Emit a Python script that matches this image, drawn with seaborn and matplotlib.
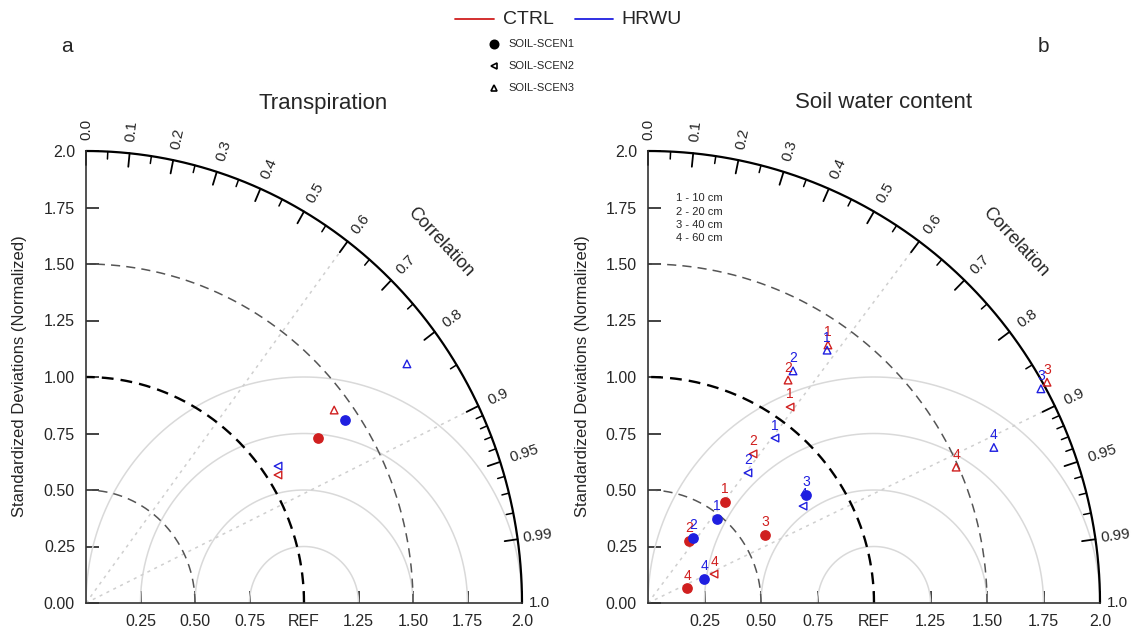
import numpy as np
import pandas as pd
import matplotlib
matplotlib.use("Agg")
import matplotlib.pyplot as plt
import seaborn as sns
from matplotlib.lines import Line2D

sns.set_theme(style="white")
plt.rcParams["font.family"] = ["Liberation Sans", "DejaVu Sans"]

# ---------------- data ----------------
models = ["CTRL", "HRWU"]
scenarios = ["SOIL-SCEN1", "SOIL-SCEN2", "SOIL-SCEN3"]
depths = ["1", "2", "3", "4"]
depth_text = ["1 - 10 cm", "2 - 20 cm", "3 - 40 cm", "4 - 60 cm"]

# Transpiration (normalized std, correlation) per scenario
tr_std_ctrl = [1.290, 1.047, 1.423]
tr_cor_ctrl = [0.825, 0.841, 0.800]
tr_std_hrwu = [1.438, 1.069, 1.813]
tr_cor_hrwu = [0.826, 0.824, 0.812]

# Soil water content, per depth (1..4); NaN = not visible
sw_std_ctrl_s1 = [0.562, 0.329, 0.599, 0.185]
sw_cor_ctrl_s1 = [0.606, 0.551, 0.864, 0.934]
sw_std_ctrl_s2 = [1.071, 0.807, np.nan, 0.319]
sw_cor_ctrl_s2 = [0.587, 0.576, np.nan, 0.916]
sw_std_ctrl_s3 = [1.392, 1.165, 2.018, 1.490]
sw_cor_ctrl_s3 = [0.572, 0.532, 0.875, 0.915]

sw_std_hrwu_s1 = [0.481, 0.350, 0.847, 0.270]
sw_cor_hrwu_s1 = [0.634, 0.569, 0.825, 0.919]
sw_std_hrwu_s2 = [0.921, 0.726, np.nan, 0.809]
sw_cor_hrwu_s2 = [0.610, 0.609, np.nan, 0.848]
sw_std_hrwu_s3 = [1.371, 1.211, 1.980, 1.678]
sw_cor_hrwu_s3 = [0.578, 0.530, 0.878, 0.912]

colors = {"CTRL": "#d01f1f", "HRWU": "#1f1fe0"}
markers = {"SOIL-SCEN1": "o", "SOIL-SCEN2": "<", "SOIL-SCEN3": "^"}

# build tables
rows = []
for m, stds, cors in [("CTRL", tr_std_ctrl, tr_cor_ctrl), ("HRWU", tr_std_hrwu, tr_cor_hrwu)]:
    for sc, s, c in zip(scenarios, stds, cors):
        rows.append(dict(model=m, scen=sc, std=s, cor=c, depth=""))
tr_df = pd.DataFrame(rows)

sw_sets = {
    ("CTRL", "SOIL-SCEN1"): (sw_std_ctrl_s1, sw_cor_ctrl_s1),
    ("CTRL", "SOIL-SCEN2"): (sw_std_ctrl_s2, sw_cor_ctrl_s2),
    ("CTRL", "SOIL-SCEN3"): (sw_std_ctrl_s3, sw_cor_ctrl_s3),
    ("HRWU", "SOIL-SCEN1"): (sw_std_hrwu_s1, sw_cor_hrwu_s1),
    ("HRWU", "SOIL-SCEN2"): (sw_std_hrwu_s2, sw_cor_hrwu_s2),
    ("HRWU", "SOIL-SCEN3"): (sw_std_hrwu_s3, sw_cor_hrwu_s3),
}
rows = []
for (m, sc), (stds, cors) in sw_sets.items():
    for d, s, c in zip(depths, stds, cors):
        rows.append(dict(model=m, scen=sc, std=s, cor=c, depth=d))
sw_df = pd.DataFrame(rows).dropna()

for df in (tr_df, sw_df):
    th = np.arccos(df["cor"])
    df["x"] = df["std"] * np.cos(th)
    df["y"] = df["std"] * np.sin(th)

# ---------------- figure ----------------
W, H = 1134, 630
fig = plt.figure(figsize=(W / 100, H / 100), dpi=100)


def fx(px):
    return px / W


def fy(py):
    return 1 - py / H


ax1 = fig.add_axes([fx(86), fy(603), (522 - 86) / W, (603 - 151) / H])
ax2 = fig.add_axes([fx(648), fy(603), (1100 - 648) / W, (603 - 151) / H])

major_c = [0.0, 0.1, 0.2, 0.3, 0.4, 0.5, 0.6, 0.7, 0.8, 0.9, 0.95, 0.99]
minor_c = [0.05, 0.15, 0.25, 0.35, 0.45, 0.55, 0.65, 0.75, 0.85,
           0.91, 0.92, 0.93, 0.94, 0.96, 0.97, 0.98]


def frame(ax):
    ax.set_xlim(0, 2)
    ax.set_ylim(0, 2)
    ax.set_facecolor("none")
    for s in ["top", "right"]:
        ax.spines[s].set_visible(False)
    for s in ["left", "bottom"]:
        ax.spines[s].set_color("#333333")
        ax.spines[s].set_linewidth(1.2)
    ax.set_xticks([0.25, 0.5, 0.75, 1.0, 1.25, 1.5, 1.75, 2.0])
    ax.set_xticklabels(["0.25", "0.50", "0.75", "REF", "1.25", "1.50", "1.75", "2.0"])
    ax.set_yticks([0, 0.25, 0.5, 0.75, 1.0, 1.25, 1.5, 1.75, 2.0])
    ax.set_yticklabels(["0.00", "0.25", "0.50", "0.75", "1.00", "1.25", "1.50", "1.75", "2.0"])
    ax.tick_params(axis="both", direction="in", length=9, width=1.2, color="#222222",
                   labelsize=11.5, pad=8, left=True, bottom=True)
    t = np.linspace(0, np.pi / 2, 300)
    # outer arc
    ax.plot(2 * np.cos(t), 2 * np.sin(t), color="black", lw=1.6, clip_on=False)
    # std arcs
    ax.plot(0.5 * np.cos(t), 0.5 * np.sin(t), color="#555555", lw=1.1, ls=(0, (6, 4)))
    ax.plot(1.5 * np.cos(t), 1.5 * np.sin(t), color="#555555", lw=1.1, ls=(0, (6, 4)))
    ax.plot(np.cos(t), np.sin(t), color="black", lw=1.7, ls=(0, (5, 3)))
    # RMS arcs around REF
    tt = np.linspace(0, np.pi, 300)
    for rr in [0.25, 0.5, 0.75, 1.0]:
        xx = 1 + rr * np.cos(tt)
        yy = rr * np.sin(tt)
        ok = xx ** 2 + yy ** 2 <= 4.0
        ax.plot(xx[ok], yy[ok], color="#d9d9d9", lw=1.1, zorder=1)
    # correlation radial dotted lines
    for c in [0.6, 0.9]:
        th = np.arccos(c)
        ax.plot([0, 2 * np.cos(th)], [0, 2 * np.sin(th)], color="#cfcfcf", lw=1.1,
                ls=(0, (2, 3)), zorder=1)
    # correlation ticks
    for c in major_c:
        th = np.arccos(c)
        ax.plot([1.94 * np.cos(th), 2 * np.cos(th)], [1.94 * np.sin(th), 2 * np.sin(th)],
                color="black", lw=1.3, clip_on=False)
        lab = "0.0" if c == 0 else ("%g" % c)
        rl = 2.025 if c == 0.99 else 2.05
        ax.text(rl * np.cos(th), rl * np.sin(th), lab, rotation=np.degrees(th),
                rotation_mode="anchor", ha="left", va="center", fontsize=11, clip_on=False)
    for c in minor_c:
        th = np.arccos(c)
        ax.plot([1.967 * np.cos(th), 2 * np.cos(th)], [1.967 * np.sin(th), 2 * np.sin(th)],
                color="black", lw=1.1, clip_on=False)
    ax.text(2.03, 0.0, "1.0", ha="left", va="center", fontsize=11, clip_on=False)
    th = np.radians(44.5)
    ax.text(2.28 * np.cos(th), 2.28 * np.sin(th), "Correlation", rotation=-47,
            rotation_mode="anchor", ha="center", va="center", fontsize=13, clip_on=False)


def points(ax, df, labels=False):
    for (m, sc), g in df.groupby(["model", "scen"]):
        col = colors[m]
        mk = markers[sc]
        sns.scatterplot(data=g, x="x", y="y", ax=ax, marker=mk,
                        s=45 if mk == "o" else 30, color=col, linewidth=1.0,
                        edgecolor=col, legend=False, zorder=5, clip_on=False)
        coll = ax.collections[-1]
        if mk != "o":
            coll.set_facecolor("none")
            coll.set_edgecolor(col)
        if labels:
            for _, r in g.iterrows():
                ax.annotate(r["depth"], (r["x"], r["y"]), xytext=(0, 4),
                            textcoords="offset points", ha="center", va="bottom",
                            color=col, fontsize=10, zorder=6, annotation_clip=False)
    ax.set_xlabel("")
    ax.set_ylabel("")


frame(ax1)
frame(ax2)
points(ax1, tr_df)
points(ax2, sw_df, labels=True)

for i, t in enumerate(depth_text):
    ax2.text(0.125, 1.79 - i * 0.058, t, fontsize=8, ha="left", va="center")

# titles, labels
fig.text(fx(323), fy(103), "Transpiration", ha="center", va="center", fontsize=16)
fig.text(fx(884), fy(103), "Soil water content", ha="center", va="center", fontsize=16)
fig.text(fx(67), fy(47), "a", ha="center", va="center", fontsize=15)
fig.text(fx(1043), fy(47), "b", ha="center", va="center", fontsize=15)
for xp in (20, 582):
    fig.text(fx(xp), fy(376), "Standardized Deviations (Normalized)", rotation=90,
             ha="center", va="center", fontsize=12)

# legend at top
fig.add_artist(Line2D([fx(455), fx(494)], [fy(19), fy(19)], color=colors["CTRL"], lw=1.3))
fig.text(fx(503), fy(19), "CTRL", ha="left", va="center", fontsize=14)
fig.add_artist(Line2D([fx(575), fx(613)], [fy(19), fy(19)], color=colors["HRWU"], lw=1.3))
fig.text(fx(621), fy(19), "HRWU", ha="left", va="center", fontsize=14)
for i, sc in enumerate(scenarios):
    yy = fy(44 + i * 22)
    mk = markers[sc]
    fig.add_artist(Line2D([fx(494)], [yy], marker=mk, color="black", ls="none",
                          markersize=6 if mk == "o" else 5,
                          markerfacecolor="black" if mk == "o" else "none",
                          markeredgewidth=1.2))
    fig.text(fx(508), yy, sc, ha="left", va="center", fontsize=8)

fig.savefig("out.png", dpi=100)
